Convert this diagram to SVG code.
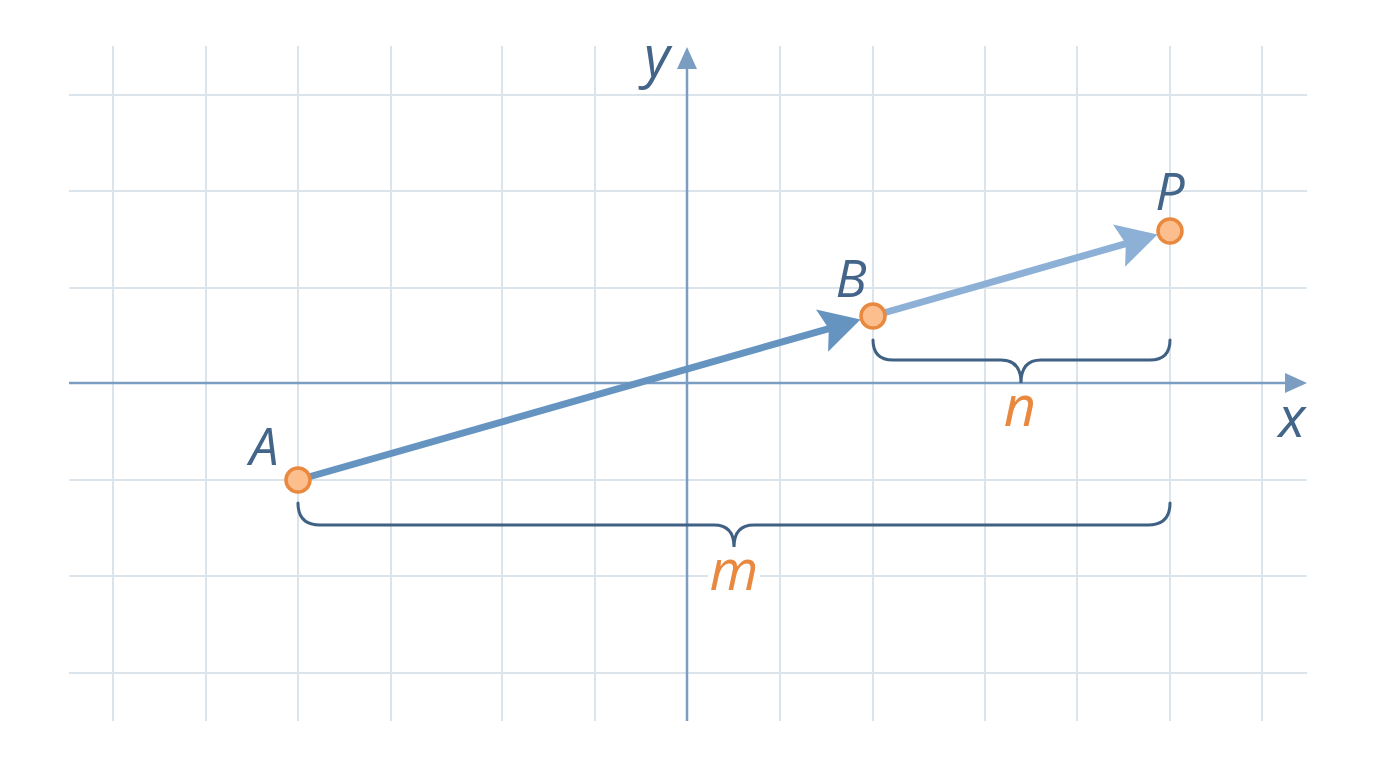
<svg xmlns="http://www.w3.org/2000/svg" width="1376" height="768" viewBox="0 0 1376 768">
<style>
.grid line{stroke:#DBE4EB;stroke-width:2}
.axis{stroke:#7B9DC1;stroke-width:2.5;fill:none}
.brace{stroke:#3F6183;stroke-width:3;fill:none;stroke-linecap:round}
.pt{fill:#FDBE8D;stroke:#E8893F;stroke-width:3.5}
.lbl{font-family:"Open Sans","Noto Sans",sans-serif;font-style:italic;font-weight:500;fill:#44658A;text-anchor:middle}
.olbl{font-family:"Open Sans","Noto Sans",sans-serif;font-style:italic;font-weight:500;fill:#E8893F;text-anchor:middle}
</style>
<defs>
<marker id="hd1" viewBox="0 0 40 44" refX="20" refY="22" markerWidth="40" markerHeight="44" markerUnits="userSpaceOnUse" orient="auto">
<path d="M0,0 L40,22 L0,44 L7,22 z" fill="#6694C0"/>
</marker>
<marker id="hd2" viewBox="0 0 40 44" refX="20" refY="22" markerWidth="40" markerHeight="44" markerUnits="userSpaceOnUse" orient="auto">
<path d="M0,0 L40,22 L0,44 L7,22 z" fill="#8DB0D7"/>
</marker>
</defs>
<rect width="1376" height="768" fill="#FFFFFF"/>
<g class="grid">
<line x1="113" y1="46" x2="113" y2="721"/>
<line x1="206" y1="46" x2="206" y2="721"/>
<line x1="298" y1="46" x2="298" y2="721"/>
<line x1="391" y1="46" x2="391" y2="721"/>
<line x1="502" y1="46" x2="502" y2="721"/>
<line x1="595" y1="46" x2="595" y2="721"/>
<line x1="780" y1="46" x2="780" y2="721"/>
<line x1="873" y1="46" x2="873" y2="721"/>
<line x1="985" y1="46" x2="985" y2="721"/>
<line x1="1077" y1="46" x2="1077" y2="721"/>
<line x1="1170" y1="46" x2="1170" y2="721"/>
<line x1="1262" y1="46" x2="1262" y2="721"/>
<line x1="69" y1="95" x2="1307" y2="95"/>
<line x1="69" y1="191" x2="1307" y2="191"/>
<line x1="69" y1="288" x2="1307" y2="288"/>
<line x1="69" y1="480" x2="1307" y2="480"/>
<line x1="69" y1="576" x2="1307" y2="576"/>
<line x1="69" y1="673" x2="1307" y2="673"/>
</g>
<g id="axes">
<line class="axis" x1="69" y1="383" x2="1288" y2="383"/>
<path d="M1307,383 L1285,373 L1285,393 z" fill="#7B9DC1"/>
<line class="axis" x1="687" y1="721" x2="687" y2="66"/>
<path d="M687,47 L677,69 L697,69 z" fill="#7B9DC1"/>
</g>
<g id="braces">
<path class="brace" d="M873,340 Q873,360 893,360 L1001,360 Q1021,360 1021,383 Q1021,360 1041,360 L1150,360 Q1170,360 1170,340"/>
<path class="brace" d="M298,503 Q298,525 320,525 L714,525 Q734,525 734,547 Q734,525 754,525 L1148,525 Q1170,525 1170,503"/>
</g>
<g id="connectors">
<line x1="298" y1="480" x2="841.3" y2="325.1" stroke="#6694C0" stroke-width="7" marker-end="url(#hd1)"/>
<line x1="873" y1="316" x2="1138.3" y2="240.1" stroke="#8DB0D7" stroke-width="7" marker-end="url(#hd2)"/>
</g>
<g id="A"><circle class="pt" cx="298" cy="480" r="12"/><text class="lbl" x="264" y="465" font-size="52">A</text></g>
<g id="B"><circle class="pt" cx="873" cy="316" r="12"/><text class="lbl" x="851" y="297" font-size="52">B</text></g>
<g id="P"><circle class="pt" cx="1170" cy="231" r="12"/><text class="lbl" x="1170" y="210" font-size="52">P</text></g>
<g id="labels">
<text class="lbl" x="657" y="76" font-size="56">y</text>
<text class="lbl" x="1292" y="437" font-size="56">x</text>
<text class="olbl" x="1020" y="426" font-size="56">n</text>
<rect x="708" y="566" width="52" height="20" fill="#FFFFFF"/>
<text class="olbl" x="734" y="590" font-size="56">m</text>
</g>
</svg>
